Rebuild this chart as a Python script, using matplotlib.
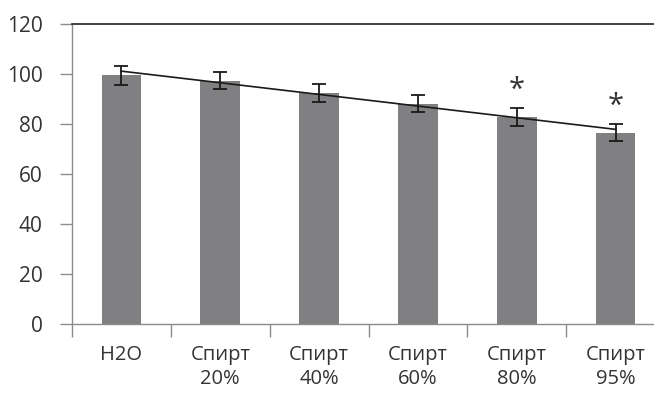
import numpy as np
import matplotlib
matplotlib.use("Agg")
from matplotlib import pyplot as plt

plt.rcParams['font.family'] = ['Open Sans', 'DejaVu Sans']

# data
labels = ["H2O", "Спирт\n20%", "Спирт\n40%", "Спирт\n60%", "Спирт\n80%", "Спирт\n95%"]
values = [99.6, 97.4, 92.4, 88.2, 82.8, 76.6]
errors = [3.8, 3.4, 3.8, 3.4, 3.5, 3.4]
marked = [False, False, False, False, True, True]

W, H = 654, 393
fig = plt.figure(figsize=(W / 100, H / 100), dpi=100)
ax = fig.add_axes([72 / W, (H - 324) / H, (665 - 72) / W, 300 / H])

x = np.arange(len(values))
ax.bar(x, values, width=0.4, color="#808083", zorder=2)
ax.errorbar(x, values, yerr=errors, fmt="none", ecolor="#1a1a1a",
            elinewidth=1.3, capsize=5, capthick=1.3, zorder=3)

# linear trendline
k, b = np.polyfit(x, values, 1)
ax.plot(x, k * x + b, color="#1a1a1a", lw=1.2, zorder=4)

for xi, v, e, m in zip(x, values, errors, marked):
    if m:
        ax.text(xi, v + e + 1.2, "*", ha="center", va="bottom",
                fontsize=21, color="#333333")

ax.set_xlim(-0.5, len(values) - 0.5)
ax.set_ylim(0, 120)
ax.set_yticks(range(0, 121, 20))

ax.set_xticks(x)
ax.set_xticklabels(labels, linespacing=1.3)
ax.set_xticks(np.arange(-0.5, len(values), 1), minor=True)
ax.tick_params(axis="x", which="major", length=0, pad=15, labelsize=14.5,
               colors="#333333")
ax.tick_params(axis="x", which="minor", length=9, width=1, color="#8c8c8c")
ax.tick_params(axis="y", length=9, width=1, color="#8c8c8c", pad=12,
               labelsize=15, labelcolor="#333333")

ax.spines["right"].set_visible(False)
for s in ("left", "bottom"):
    ax.spines[s].set_color("#8c8c8c")
    ax.spines[s].set_linewidth(1)
ax.spines["top"].set_color("#222222")
ax.spines["top"].set_linewidth(1.2)

fig.savefig("out.png", dpi=100)
